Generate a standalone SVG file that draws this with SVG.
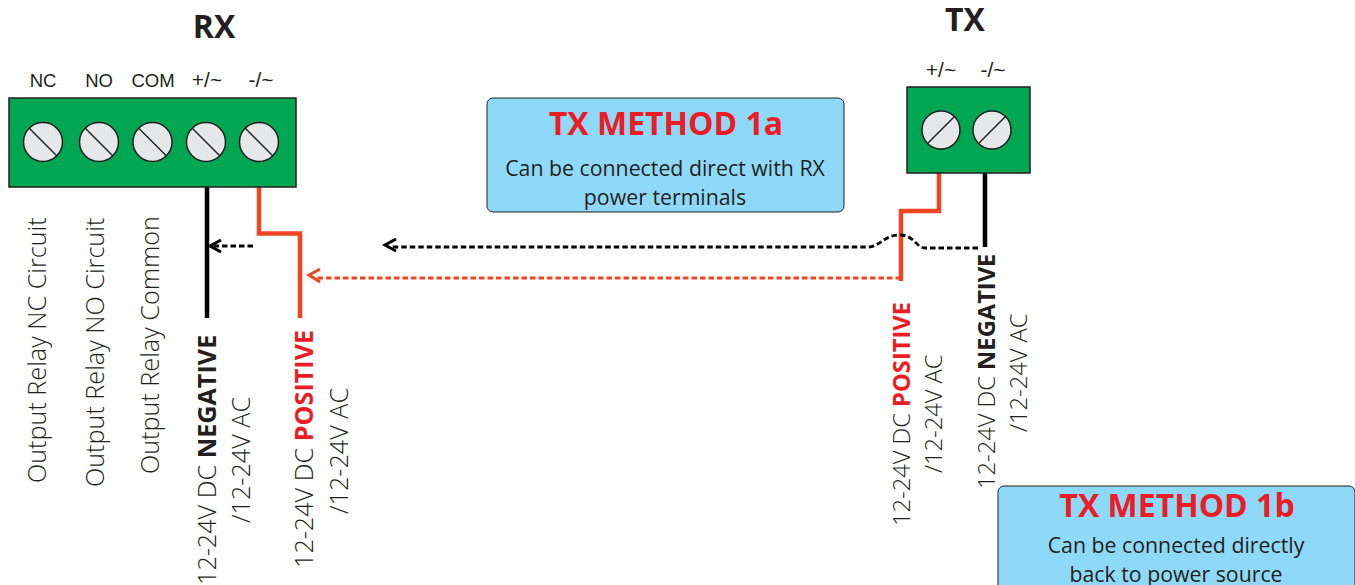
<svg xmlns="http://www.w3.org/2000/svg" width="1355" height="585" viewBox="0 0 1355 585">
<style>
text{font-family:"Open Sans","Noto Sans",sans-serif;fill:#231f20}
.t{font-size:32px;font-weight:700;text-anchor:middle}
.l{font-family:"Liberation Sans",Arial,sans-serif;font-size:18.500px;text-anchor:middle}
.p{font-size:21px}
.v{font-size:25.200px;font-weight:300}
.vs{font-size:23.700px;font-weight:300}
.b{font-weight:700}
.r{fill:#ed1c24;font-weight:700}
.h{font-size:32px;font-weight:700;text-anchor:middle;fill:#ed1c24}
.d{font-size:21.300px;text-anchor:middle}
.box{fill:#00a651;stroke:#231f20;stroke-width:1.5}
.panel{fill:#8ed8f8;stroke:#231f20;stroke-width:1}
.sc{fill:#e6e7e8;stroke:#231f20;stroke-width:1.500}
.sl{stroke:#231f20;stroke-width:1.500}
.w{fill:none;stroke-width:4.500}
.dash{fill:none;stroke-width:2.800;stroke-dasharray:5.500 3}
.head{fill:none;stroke-width:3}
</style>
<defs>
<g id="s"><circle class="sc" r="19.500"/><path class="sl" d="M-14-14L14 14"/></g>
<g id="s2"><circle class="sc" r="19"/><path class="sl" d="M-13 13L13-13"/></g>
</defs>
<g id="connectors">
<path class="w" stroke="#000" d="M207 187V318"/>
<path class="w" stroke="#f04423" d="M259 187V233.500H300V318"/>
<path class="w" stroke="#f04423" d="M939 172V211H901V281"/>
<path class="w" stroke="#000" d="M985 172V247"/>
<path class="dash" stroke="#000" d="M253 246H214"/>
<path class="head" stroke="#000" d="M221 240L210 246L221 252"/>
<path class="dash" stroke="#000" d="M978 248H925C916 248 915 235 899 235C884 235 880 247 868 247H392"/>
<path class="head" stroke="#000" d="M396 239L385 245L396 251"/>
<path class="dash" stroke="#f04423" d="M901 278H315"/>
<path class="head" stroke="#f04423" d="M320 269L309 275L320 282"/>
</g>
<g id="rx"><rect class="box" x="9" y="98" width="287" height="89"/>
<use href="#s" x="43" y="142"/><use href="#s" x="99" y="142"/><use href="#s" x="152.500" y="142"/><use href="#s" x="206" y="142"/><use href="#s" x="259" y="142"/>
<text class="t" x="214" y="38">RX</text>
<text class="l" x="43" y="87">NC</text><text class="l" x="99" y="87">NO</text><text class="l" x="153" y="87">COM</text><text class="l p" x="207" y="87">+/~</text><text class="l p" x="261" y="87">-/~</text>
</g>
<g id="tx"><rect class="box" x="907" y="87" width="123" height="86"/>
<use href="#s2" x="941" y="130"/><use href="#s2" x="992" y="130"/>
<text class="t" x="965" y="31">TX</text>
<text class="l p" x="941" y="77">+/~</text><text class="l p" x="993" y="77">-/~</text>
</g>
<g id="rx-labels">
<text class="v" transform="translate(46 483) rotate(-90)">Output Relay NC Circuit</text>
<text class="v" transform="translate(104 487) rotate(-90)">Output Relay NO Circuit</text>
<text class="v" transform="translate(159 474) rotate(-90)">Output Relay Common</text>
<text class="v" transform="translate(216 585) rotate(-90)">12-24V DC <tspan class="b">NEGATIVE</tspan></text>
<text class="v" transform="translate(250 523) rotate(-90)">/12-24V AC</text>
<text class="v" transform="translate(313 568) rotate(-90)">12-24V DC <tspan class="r">POSITIVE</tspan></text>
<text class="v" transform="translate(348 514) rotate(-90)">/12-24V AC</text>
</g>
<g id="tx-labels">
<text class="vs" transform="translate(910 526) rotate(-90)">12-24V DC <tspan class="r">POSITIVE</tspan></text>
<text class="vs" transform="translate(942 473) rotate(-90)">/12-24V AC</text>
<text class="vs" transform="translate(995 489) rotate(-90)">12-24V DC <tspan class="b">NEGATIVE</tspan></text>
<text class="vs" transform="translate(1027 432) rotate(-90)">/12-24V AC</text>
</g>
<g id="method-1a"><rect class="panel" x="487" y="98" width="357" height="114" rx="6"/>
<text class="h" x="666" y="135">TX METHOD 1a</text>
<text class="d" x="665" y="176">Can be connected direct with RX</text>
<text class="d" x="665" y="205">power terminals</text>
</g>
<g id="method-1b"><rect class="panel" x="998" y="486" width="357" height="114" rx="6"/>
<text class="h" x="1177" y="517">TX METHOD 1b</text>
<text class="d" x="1176" y="553">Can be connected directly</text>
<text class="d" x="1176" y="582">back to power source</text>
</g>
</svg>
